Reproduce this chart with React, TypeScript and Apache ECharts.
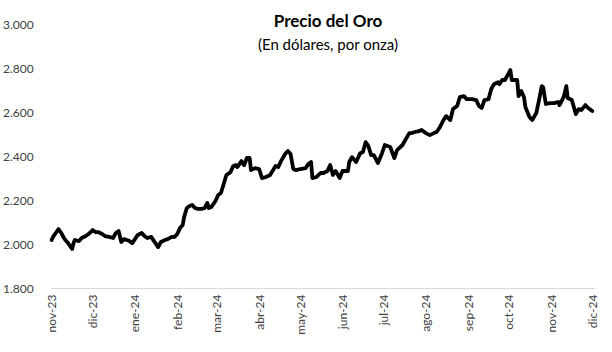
import React, { useEffect, useRef } from "react";
import * as echarts from "echarts";

// Days since 2023-11-01 at which each month starts (x-axis label positions)
const monthStarts = [0, 30, 61, 92, 121, 152, 182, 213, 243, 274, 305, 335, 366, 396];
const monthLabels = [
  "nov-23", "dic-23", "ene-24", "feb-24", "mar-24", "abr-24", "may-24",
  "jun-24", "jul-24", "ago-24", "sep-24", "oct-24", "nov-24", "dic-24",
];

const days = [
  0, 1, 3, 5, 7, 9, 10, 12, 15, 16, 17, 20, 22, 25, 27, 30, 32, 34, 37, 39,
  42, 45, 47, 49, 51, 53, 55, 57, 59, 61, 63, 66, 68, 70, 73, 75, 78, 80, 83, 85,
  88, 90, 92, 94, 96, 97, 99, 101, 103, 105, 107, 110, 112, 114, 115, 117, 120, 122, 124, 126,
  128, 131, 133, 135, 136, 139, 141, 143, 145, 146, 149, 152, 154, 157, 160, 164, 166, 168, 171, 173,
  175, 177, 179, 182, 186, 188, 190, 191, 194, 197, 199, 202, 204, 206, 208, 211, 213, 217, 218, 220,
  223, 226, 228, 230, 232, 234, 236, 239, 242, 244, 248, 251, 253, 257, 259, 262, 264, 266, 269, 271,
  274, 277, 280, 282, 284, 287, 289, 292, 294, 297, 299, 302, 304, 306, 308, 311, 313, 315, 317, 320,
  322, 324, 327, 328, 330, 332, 334, 336, 337, 339, 341, 342, 344, 346, 347, 350, 352, 355, 357, 359,
  360, 362, 365, 368, 371, 372, 375, 377, 378, 381, 384, 386, 388, 391, 393, 396,
];

// Gold price (USD per ounce)
const prices = [
  2020, 2034, 2052, 2070, 2052, 2029, 2020, 2006, 1979, 2006, 2020, 2015, 2029, 2038, 2047, 2065, 2056, 2056, 2047, 2038,
  2034, 2029, 2052, 2061, 2011, 2024, 2020, 2015, 2006, 2024, 2043, 2052, 2038, 2029, 2034, 2015, 1988, 2011, 2020, 2024,
  2034, 2034, 2047, 2074, 2088, 2124, 2165, 2174, 2179, 2165, 2161, 2161, 2165, 2188, 2165, 2170, 2197, 2224, 2233, 2274,
  2315, 2328, 2356, 2360, 2351, 2378, 2360, 2392, 2392, 2337, 2346, 2342, 2301, 2306, 2315, 2356, 2351, 2378, 2410, 2424,
  2410, 2342, 2337, 2342, 2346, 2365, 2374, 2301, 2306, 2324, 2324, 2333, 2360, 2315, 2333, 2301, 2333, 2333, 2374, 2396,
  2374, 2414, 2419, 2464, 2446, 2405, 2405, 2369, 2414, 2451, 2442, 2392, 2428, 2451, 2473, 2505, 2505, 2510, 2514, 2519,
  2505, 2496, 2505, 2510, 2528, 2564, 2582, 2564, 2614, 2628, 2668, 2673, 2659, 2659, 2659, 2655, 2628, 2619, 2655, 2659,
  2705, 2727, 2736, 2727, 2746, 2746, 2768, 2791, 2746, 2746, 2746, 2673, 2696, 2668, 2623, 2578, 2564, 2596, 2655, 2718,
  2714, 2637, 2641, 2641, 2646, 2632, 2668, 2718, 2664, 2655, 2591, 2614, 2610, 2632, 2619, 2605,
];

const yTicks = { min: 1800, max: 3000, interval: 200 };

const FONT = "Lato, 'Open Sans', sans-serif";

export default function App() {
  const ref = useRef<HTMLDivElement>(null);

  useEffect(() => {
    if (!ref.current) return;
    const chart = echarts.init(ref.current, null, { renderer: "svg" });
    const data = days.map((d, i) => [d, prices[i]]);
    chart.setOption({
      animation: false,
      backgroundColor: "#ffffff",
      textStyle: { fontFamily: FONT },
      title: [
        {
          text: "Precio del Oro",
          left: 323,
          top: 7,
          textAlign: "center",
          textStyle: { fontFamily: FONT, fontSize: 17, fontWeight: "bold", color: "#000000" },
        },
        {
          text: "(En dólares, por onza)",
          left: 323,
          top: 31,
          textAlign: "center",
          textStyle: { fontFamily: FONT, fontSize: 15, fontWeight: "normal", color: "#000000" },
        },
      ],
      grid: { left: 46, right: 17, top: 24, bottom: 63.5, containLabel: false },
      xAxis: {
        type: "value",
        min: 0,
        max: 398,
        axisLine: { show: true, lineStyle: { color: "#d9d9d9", width: 1 } },
        axisTick: { show: false },
        splitLine: { show: false },
        axisLabel: {
          customValues: monthStarts,
          rotate: 90,
          margin: 6,
          fontFamily: FONT,
          fontSize: 12,
          color: "#404040",
          formatter: (v: number) => {
            const i = monthStarts.indexOf(Math.round(v));
            return i >= 0 ? monthLabels[i] : "";
          },
        },
      },
      yAxis: {
        type: "value",
        min: yTicks.min,
        max: yTicks.max,
        interval: yTicks.interval,
        axisLine: { show: false },
        axisTick: { show: false },
        splitLine: { show: false },
        axisLabel: {
          margin: 18,
          fontFamily: FONT,
          fontSize: 12,
          color: "#404040",
          formatter: (v: number) => {
            const s = String(Math.round(v));
            return s.replace(/\B(?=(\d{3})+(?!\d))/g, ".");
          },
        },
      },
      series: [
        {
          type: "line",
          data,
          showSymbol: false,
          smooth: false,
          lineStyle: { color: "#000000", width: 3.8, join: "round", cap: "round" },
        },
      ],
    });
    return () => chart.dispose();
  }, []);

  return (
    <div
      ref={ref}
      style={{ position: "fixed", left: 0, top: 0, width: 612, height: 352, background: "#fff" }}
    />
  );
}
